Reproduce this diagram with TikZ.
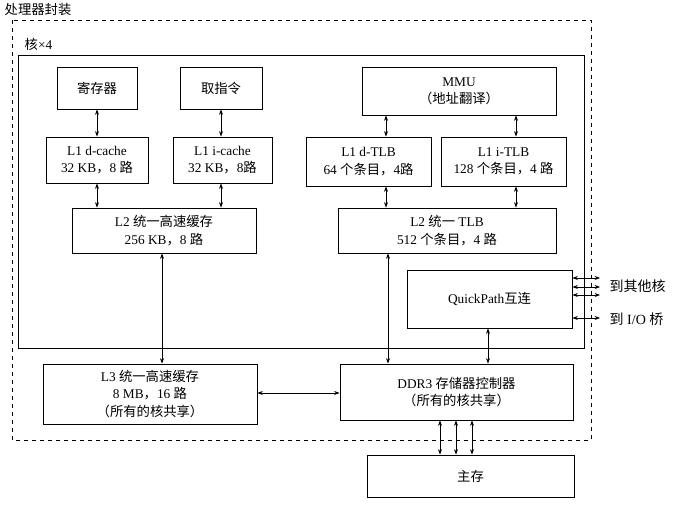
\documentclass[tikz,border=0pt]{standalone}
\usepackage{fontspec}
\setmainfont{Liberation Serif}
\newfontfamily\cjk{Noto Sans CJK SC}
\newcommand\zh[1]{{\cjk #1}}
\usetikzlibrary{arrows.meta}
\begin{document}
\begin{tikzpicture}[x=0.75pt,y=-0.75pt,
  box/.style={draw,line width=0.7pt,align=center,font=\fontsize{10}{13}\selectfont,inner sep=0pt},
  con/.style={{Stealth[length=4pt,width=3pt]}-{Stealth[length=4pt,width=3pt]},line width=0.5pt}]
\useasboundingbox (0,0) rectangle (679,506);
\draw[dashed,line width=0.6pt] (12,20) rectangle (591,440);
\node[anchor=west,font=\cjk\fontsize{10}{12}\selectfont] (pkg) at (0,9) {处理器封装};
\draw[line width=0.7pt] (18,55) rectangle (584,348);
\node[anchor=west,font=\fontsize{10}{12}\selectfont] (core) at (20,44) {\zh{核}×4};
\newcommand\bx[6]{\node[box,minimum width=#4*0.75pt-#2*0.75pt,minimum height=#5*0.75pt-#3*0.75pt] (#1) at ({(#2+#4)/2},{(#3+#5)/2}) {#6};}
\bx{reg}{57}{67}{137}{109}{\zh{寄存器}}
\bx{fetch}{180}{67}{262}{109}{\zh{取指令}}
\bx{mmu}{362}{67}{556}{115}{MMU\\\zh{（地址翻译）}}
\bx{dc}{46}{137}{148}{183}{L1 d-cache\\32 KB\zh{，}8 \zh{路}}
\bx{ic}{173}{137}{272}{183}{L1 i-cache\\32 KB\zh{，}8\zh{路}}
\bx{dt}{306}{137}{431}{186}{L1 d-TLB\\64 \zh{个条目，}4\zh{路}}
\bx{it}{441}{137}{566}{186}{L1 i-TLB\\128 \zh{个条目，}4 \zh{路}}
\bx{l2}{72}{208}{256}{253}{L2 \zh{统一高速缓存}\\256 KB\zh{，}8 \zh{路}}
\bx{l2t}{338}{208}{556}{253}{L2 \zh{统一} TLB\\512 \zh{个条目，}4 \zh{路}}
\bx{qp}{407}{270}{572}{328}{QuickPath\zh{互连}}
\bx{l3}{43}{364}{257}{424}{L3 \zh{统一高速缓存}\\8 MB\zh{，}16 \zh{路}\\\zh{（所有的核共享）}}
\bx{ddr}{340}{364}{573}{420}{DDR3 \zh{存储器控制器}\\\zh{（所有的核共享）}}
\bx{mem}{367}{455}{574}{497}{\zh{主存}}
\draw[con] (reg.south-|97,0) -- (dc.north-|97,0);
\draw[con] (fetch.south-|221,0) -- (ic.north-|221,0);
\draw[con] (dc.south-|97,0) -- (l2.north-|97,0);
\draw[con] (ic.south-|221,0) -- (l2.north-|221,0);
\draw[con] (mmu.south-|386,0) -- (dt.north-|386,0);
\draw[con] (mmu.south-|516,0) -- (it.north-|516,0);
\draw[con] (dt.south-|386,0) -- (l2t.north-|386,0);
\draw[con] (it.south-|516,0) -- (l2t.north-|516,0);
\draw[con] (l2.south-|162,0) -- (l3.north-|162,0);
\draw[con] (l2t.south-|388,0) -- (ddr.north-|388,0);
\draw[con] (qp.south-|488,0) -- (ddr.north-|488,0);
\draw[con] (l3.east|-0,393) -- (ddr.west|-0,393);
\foreach \x in {440,456,472} \draw[con] (ddr.south-|\x,0) -- (mem.north-|\x,0);
\coordinate (o1) at (600,278); \coordinate (o2) at (600,287); \coordinate (o3) at (600,295); \coordinate (o4) at (600,318);
\draw[con] (qp.east|-o1) -- (o1);
\draw[con] (qp.east|-o2) -- (o2);
\draw[con] (qp.east|-o3) -- (o3);
\draw[con] (qp.east|-o4) -- (o4);
\node[anchor=west,font=\cjk\fontsize{10.5}{12}\selectfont] (t1) at (605,286) {到其他核};
\node[anchor=west,font=\fontsize{10.5}{12}\selectfont] (t2) at (605,319) {\zh{到} I/O \zh{桥}};
\end{tikzpicture}
\end{document}
